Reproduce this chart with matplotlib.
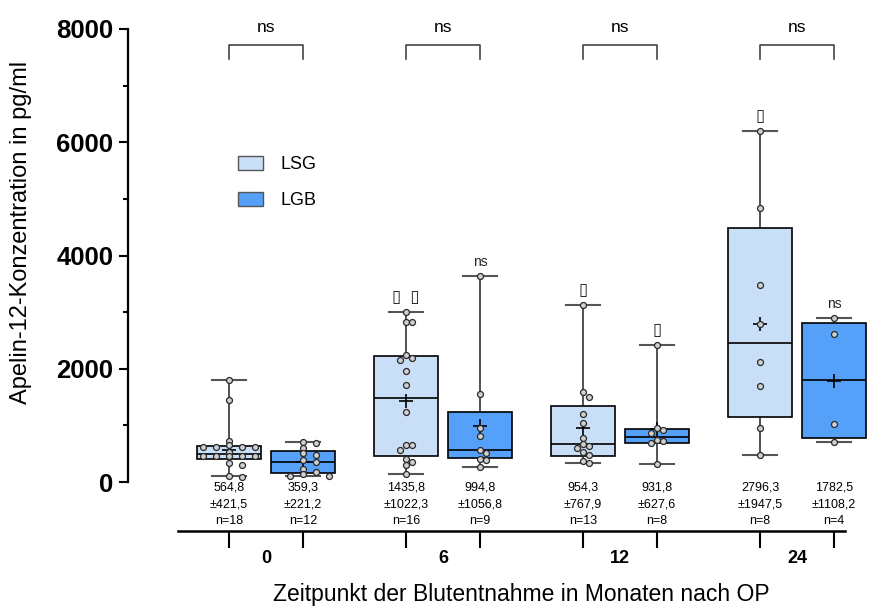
import matplotlib

matplotlib.use("Agg")
import matplotlib.pyplot as plt
from matplotlib.patches import Patch
import numpy as np

plt.rcParams["font.family"] = ["Liberation Sans", "DejaVu Sans"]

# --- data -------------------------------------------------------------------
groups = ["0", "6", "12", "24"]
series = ["LSG", "LGB"]

lsg_points = [
    [1800, 1440, 730, 650, 624, 624, 624, 624, 535, 454, 454, 454, 454, 454, 330, 300, 112, 95],
    [3002, 2831, 2831, 2243, 2184, 2160, 1955, 1719, 1242, 653, 653, 565, 406, 353, 300, 141],
    [3126, 1595, 1507, 1195, 1036, 771, 665, 641, 600, 535, 477, 376, 341],
    [6193, 4834, 3479, 2790, 2125, 1701, 948, 477],
]
lgb_points = [
    [712, 680, 595, 518, 477, 389, 348, 230, 182, 141, 112, 112],
    [3638, 1548, 959, 807, 560, 512, 406, 394, 271],
    [2425, 948, 918, 860, 742, 724, 683, 318],
    [2891, 2608, 1024, 701],
]

# whisker low, Q1, median, Q3, whisker high
lsg_box = [
    (100, 401, 490, 630, 1800),
    (141, 459, 1483, 2219, 3002),
    (341, 459, 665, 1342, 3126),
    (477, 1153, 2449, 4480, 6193),
]
lgb_box = [
    (112, 164, 359, 553, 712),
    (271, 418, 559, 1242, 3638),
    (318, 694, 800, 930, 2425),
    (701, 771, 1801, 2814, 2891),
]

lsg_mean = [564.8, 1435.8, 954.3, 2796.3]
lsg_sd = [421.5, 1022.3, 767.9, 1947.5]
lsg_n = [18, 16, 13, 8]
lgb_mean = [359.3, 994.8, 931.8, 1782.5]
lgb_sd = [221.2, 1056.8, 627.6, 1108.2]
lgb_n = [12, 9, 8, 4]

lsg_marks = ["", "\u25af  \u25af", "\u25af", "\u25af"]
lgb_marks = ["", "ns", "\u25af", "ns"]
pair_marks = ["ns", "ns", "ns", "ns"]

# --- style ------------------------------------------------------------------
colors = {"LSG": "#C9DEF7", "LGB": "#55A0F8"}
offset = 0.209
box_w = 0.36
swarm_step = [13, 6, 6, 6]  # px between neighbouring dots
swarm_thr = [4, 5, 5, 5]

fig = plt.figure(figsize=(8.74, 6.06), dpi=100)
ax = fig.add_axes([128 / 874, 1 - 482 / 606, 721 / 874, 453 / 606])
ax.set_xlim(-0.78, 3.294)
ax.set_ylim(0, 8000)

centers = np.arange(len(groups))
pos = {"LSG": centers - offset, "LGB": centers + offset}


def make_stats(boxes, means):
    out = []
    for (lo, q1, med, q3, hi), m in zip(boxes, means):
        out.append(dict(whislo=lo, q1=q1, med=med, q3=q3, whishi=hi, mean=m, fliers=[]))
    return out


for name, boxes, means in [("LSG", lsg_box, lsg_mean), ("LGB", lgb_box, lgb_mean)]:
    parts = ax.bxp(
        make_stats(boxes, means),
        positions=pos[name],
        widths=box_w,
        capwidths=0.19,
        patch_artist=True,
        showmeans=True,
        showfliers=False,
        boxprops=dict(facecolor=colors[name], edgecolor="black", linewidth=1.2),
        medianprops=dict(color="black", linewidth=1.2),
        whiskerprops=dict(color="#222222", linewidth=1.1),
        capprops=dict(color="#555555", linewidth=1.5),
        meanprops=dict(marker="+", markeredgecolor="black", markersize=10, markeredgewidth=1.2),
        manage_ticks=False,
    )
    for artists in parts.values():
        for a in artists:
            a.set_clip_on(False)

px_per_unit = ax.transData.transform((1, 0))[0] - ax.transData.transform((0, 0))[0]


def swarm(values, step_px, thr_px):
    ys = ax.transData.transform(np.column_stack([np.zeros(len(values)), values]))[:, 1]
    placed = []
    slots = []
    for y in ys:
        for s in [0, 1, -1, 2, -2, 3, -3, 4, -4]:
            if all(abs(y - py) >= thr_px for ps, py in placed if ps == s):
                break
        placed.append((s, y))
        slots.append(s)
    return np.array(slots) * step_px / px_per_unit


for name, pts in [("LSG", lsg_points), ("LGB", lgb_points)]:
    for i, vals in enumerate(pts):
        dx = swarm(vals, swarm_step[i], swarm_thr[i])
        ax.plot(
            pos[name][i] + dx, vals, "o", ms=4.3, mfc="#D0D0D0", mec="#2A2A2A",
            mew=0.9, zorder=5, clip_on=False,
        )

# significance marks above whiskers
for name, boxes, marks in [("LSG", lsg_box, lsg_marks), ("LGB", lgb_box, lgb_marks)]:
    for i, mk in enumerate(marks):
        if not mk:
            continue
        ax.annotate(
            mk, xy=(pos[name][i], boxes[i][4]), xytext=(0, 5), textcoords="offset points",
            ha="center", va="bottom", fontsize=10 if mk == "ns" else 12, color="#222222",
            annotation_clip=False,
        )

# brackets between the two groups
for i, mk in enumerate(pair_marks):
    x0, x1 = pos["LSG"][i], pos["LGB"][i]
    ax.plot([x0, x0, x1, x1], [7470, 7717, 7717, 7470], color="#444444", lw=1.2, clip_on=False)
    ax.text(centers[i], 7900, mk, ha="center", va="bottom", fontsize=12.5)

# mean / sd / n below each box
for name, means, sds, ns in [("LSG", lsg_mean, lsg_sd, lsg_n), ("LGB", lgb_mean, lgb_sd, lgb_n)]:
    for i in range(len(groups)):
        txt = f"{means[i]:.1f}\n±{sds[i]:.1f}\nn={ns[i]}".replace(".", ",")
        ax.annotate(
            txt, xy=(pos[name][i], 0), xytext=(0, 0), textcoords="offset points",
            ha="center", va="top", fontsize=9, linespacing=1.5, annotation_clip=False,
        )

# axes styling
for side in ["top", "right"]:
    ax.spines[side].set_visible(False)
ax.spines["left"].set_linewidth(1.6)
ax.spines["bottom"].set_linewidth(1.8)
ax.spines["bottom"].set_position(("outward", 35))
ax.spines["bottom"].set_bounds(-0.497, 3.271)

ax.set_yticks([0, 2000, 4000, 6000, 8000])
ax.set_yticks([1000, 3000, 5000, 7000], minor=True)
ax.tick_params(axis="y", which="major", length=6.5, width=1.5, labelsize=18.5, pad=4)
ax.tick_params(axis="y", which="minor", length=3.5, width=1.5)
for lab in ax.get_yticklabels():
    lab.set_fontweight("bold")

ax.set_xticks(np.concatenate([pos["LSG"], pos["LGB"]]))
ax.set_xticklabels([])
ax.set_xticks(centers, labels=groups, minor=True)
ax.tick_params(axis="x", which="major", length=12, width=1.5, direction="out")
ax.tick_params(axis="x", which="minor", length=0, pad=14, labelsize=13)
for lab in ax.get_xticklabels(minor=True):
    lab.set_fontweight("bold")

ax.set_ylabel("Apelin-12-Konzentration in pg/ml", fontsize=17)
ax.yaxis.set_label_coords(-0.133, 0.552)
ax.set_xlabel("Zeitpunkt der Blutentnahme in Monaten nach OP", fontsize=16.5)
ax.xaxis.set_label_coords(0.545, -0.222)

handles = [Patch(facecolor=colors[s], edgecolor="#555555", linewidth=1) for s in series]
ax.legend(
    handles, series, loc="upper left", bbox_to_anchor=(0.1526, 0.72), frameon=False,
    fontsize=13, handlelength=1.4, handleheight=0.8, handletextpad=0.95,
    labelspacing=1.05, borderpad=0, borderaxespad=0,
)

fig.savefig("out.png", dpi=100, facecolor="white")
plt.close(fig)
